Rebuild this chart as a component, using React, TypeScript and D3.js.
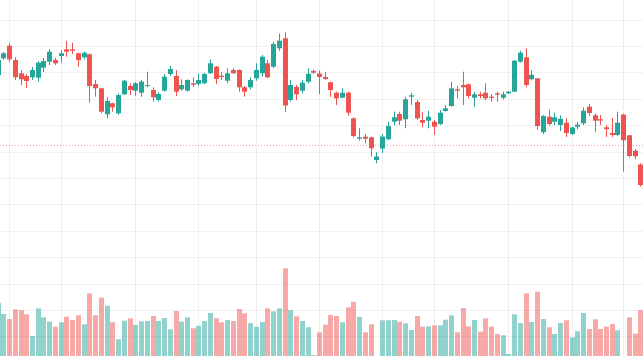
import React from "react";
import * as d3 from "d3";

const W = 643;
const H = 356;

const opens = [125,141.7,154.3,140,126.7,124,122.7,122.3,132.3,138.3,140,144,150.7,150.7,146.7,142.7,145.7,116,111.7,85.7,96.7,86.7,105.7,114,109.3,107.3,114,110,100,109.3,126,124,110.7,109.3,116.7,116,116.7,126.7,133.3,124.3,119.3,130,130,112.7,112.7,121.7,126.7,136.7,133.3,151.7,161.7,100,113,109.3,118.3,129,126.5,123,117.7,107.3,102.3,107.3,81.7,61.3,63.3,62.7,40,51.5,60.7,78.3,86,80.7,103.3,98,80,79.3,78.3,76,89,94,110.7,115,115.7,102.3,105.7,107.3,103.3,106.7,102.3,106.7,108.3,138.3,142.7,120.8,121.7,67.8,83.3,78.3,75,77.3,66,73.3,76.7,93.3,84.7,80.7,72.7,67,65,85.5,64.7,49.3,35.5];
const highs = [143,148,156.7,142.7,130,126,133,139,142,151,142,150,159,157.3,147.3,148.3,146.5,120,112,102.7,97.3,106.7,120,116.7,118,120,128.3,112.7,108,126,134,130,120.7,120.7,122.7,126.7,127.3,140.7,134,128,131.7,131.7,130.7,114,122.7,136.7,145,140,158.3,166.5,167.8,120,115,120,131.7,130.5,129.3,128.3,118.3,108.3,111.7,108.3,82.7,71.7,66,63.3,48,66,78.3,88.3,88.3,103.3,107.3,100,88.3,89.3,80,90,95,118.3,114,128.3,116.7,108.3,108.3,116.7,106,108.3,108.3,109,140,149.3,151.7,129.7,121.7,85,90.3,87.3,84.5,81.7,73.3,78.3,92.7,96,86.4,85,75,82,88.3,86.3,65,51,36.7];
const lows = [122,140,138,120,115,112,120,118.3,128,135,135,137.3,143.3,146,133.3,140.7,97.3,103.3,86.7,81.7,88.3,85,105,105,104.3,103.3,112.7,98.3,98.3,108.3,124,104,109.3,108.3,112.7,114,116,126,116,120,116.7,126,108.3,103.3,110.7,119.3,123.3,121.7,132,149,88,98.5,100,106.7,116.7,126,106,120,103.3,95,101.7,84,62.7,59.3,56.7,43.3,36.7,47,60,75,75,71.7,95,80,72.7,71.7,65,75,88.3,93.3,101.7,95,101.7,93.3,101.7,100,98.3,98.3,100.7,106,108,137.3,112.7,119.7,70,66,74.3,75,68.8,63,65,70.7,75,84,67.8,75,63,63,64,28.3,42.5,41,13.3];
const closes = [140,146.7,140.7,122.7,120.7,119,130,137.3,139,148.3,136.7,146.7,148.3,149.3,140,147.3,114,111.7,88.3,99,92.7,105,119.3,110,116.7,118.3,115,102.7,106,123.3,131,108.3,115,120,115.3,120,126,136.7,121,123,126.7,126.7,112.7,108.3,120,130,143.3,122.7,156,159.3,94.5,115,105.7,117.3,126.2,127.3,123,121,110,101.7,107.3,87.3,64,62.7,61.3,51.7,43.5,63.5,74,82.7,79.3,100.7,104.7,81.7,77.3,83.3,73.3,87.3,91.7,111.7,109.3,112.7,104,105.7,104,101.7,102,105.3,105.7,108.3,139.3,147.3,115,125.3,74,84,76,82.7,81.2,67,72.5,75.4,89.3,87,79.3,79.5,70.8,65,77.3,59.7,44,43.7,15];
const volumes = [53,42,37,46.7,46,41.7,20,47.7,38.7,34.3,29.3,33.7,39.3,36,40.7,31.7,62.7,40.7,58.3,50.3,33.7,16.7,35.3,37.7,31,34.7,35,40,35,38,26.7,45,34.3,38.7,27.7,30.3,35,43,37.7,33.7,36,35,47,42.7,33,29.3,34,47.7,44.7,47.7,87.7,46,39.7,35,28.7,1,23.7,31.3,41,40,33.7,48.7,54.3,39,23.7,31.7,0,35.7,35.7,36,34.3,32.7,26,40,29.3,29.7,30.7,30.7,36.3,40.7,23.7,48,29.7,36,24.3,37.7,29.3,22,20.7,2,41.7,33,62.7,34,64.3,37,28.7,22,33,35.7,18.7,24.7,43,27,36.7,27,29.3,32,25.7,0,38.7,22.3,46];

// price levels of horizontal grid lines
const gridPrices = [180.5,154.1,127.7,101.3,74.9,48.5,22.1,-4.3,-30.7,-57.1,-83.5,-109.9,-136.3];
// bar indices (1-based) where vertical time grid lines fall
const gridBars = [3,12,25,36,46,57,68,77,90,101,110];
const priceLineValue = 54.7;

const UP = "#26a69a";
const DOWN = "#ef5350";
const UP_VOL = "rgba(38,166,154,0.5)";
const DOWN_VOL = "rgba(239,83,80,0.5)";

export default function App() {
  const n = opens.length;
  const idx = d3.range(1, n + 1);
  const x = d3.scaleLinear().domain([1, n]).range([-2.44, 640.44]);
  const y = d3.scaleLinear().domain([0, 200]).range([200, 0]);
  const yv = d3.scaleLinear().domain([0, 100]).range([H, H - 100]);
  const bodyW = 5;
  const volW = 5;

  return (
    <svg
      width={W}
      height={H}
      style={{ position: "absolute", left: 0, top: 0, background: "#ffffff" }}
    >
      <rect x={0} y={0} width={W} height={H} fill="#ffffff" />
      <g>
        {gridPrices.map((p, i) => {
          const yy = Math.round(y(p)) + 0.5;
          return <line key={"h" + i} x1={0} x2={W} y1={yy} y2={yy} stroke="#f0f0f0" strokeWidth={1} />;
        })}
        {gridBars.map((b, i) => {
          const xx = Math.round(x(b)) + 0.5;
          return <line key={"v" + i} x1={xx} x2={xx} y1={0} y2={H} stroke="#efefef" strokeWidth={1} />;
        })}
      </g>
      <g>
        {idx.map((k, i) => {
          const up = closes[i] >= opens[i];
          const cx = Math.round(x(k));
          const top = yv(volumes[i]);
          return (
            <rect
              key={"vol" + k}
              x={cx - Math.floor(volW / 2)}
              y={top}
              width={volW}
              height={Math.max(0, H - top)}
              fill={up ? UP_VOL : DOWN_VOL}
            />
          );
        })}
      </g>
      <line
        x1={0}
        x2={W}
        y1={Math.round(y(priceLineValue)) + 0.5}
        y2={Math.round(y(priceLineValue)) + 0.5}
        stroke={DOWN}
        strokeOpacity={0.55}
        strokeWidth={1}
        strokeDasharray="1 2"
      />
      <g>
        {idx.map((k, i) => {
          const up = closes[i] >= opens[i];
          const c = up ? UP : DOWN;
          const cx = Math.round(x(k));
          const yTop = y(Math.max(opens[i], closes[i]));
          const yBot = y(Math.min(opens[i], closes[i]));
          return (
            <g key={"c" + k}>
              <line x1={cx + 0.5} x2={cx + 0.5} y1={y(highs[i])} y2={y(lows[i])} stroke={c} strokeWidth={1} />
              <rect
                x={cx - Math.floor(bodyW / 2)}
                y={yTop}
                width={bodyW}
                height={Math.max(1, yBot - yTop)}
                fill={c}
              />
            </g>
          );
        })}
      </g>
    </svg>
  );
}
